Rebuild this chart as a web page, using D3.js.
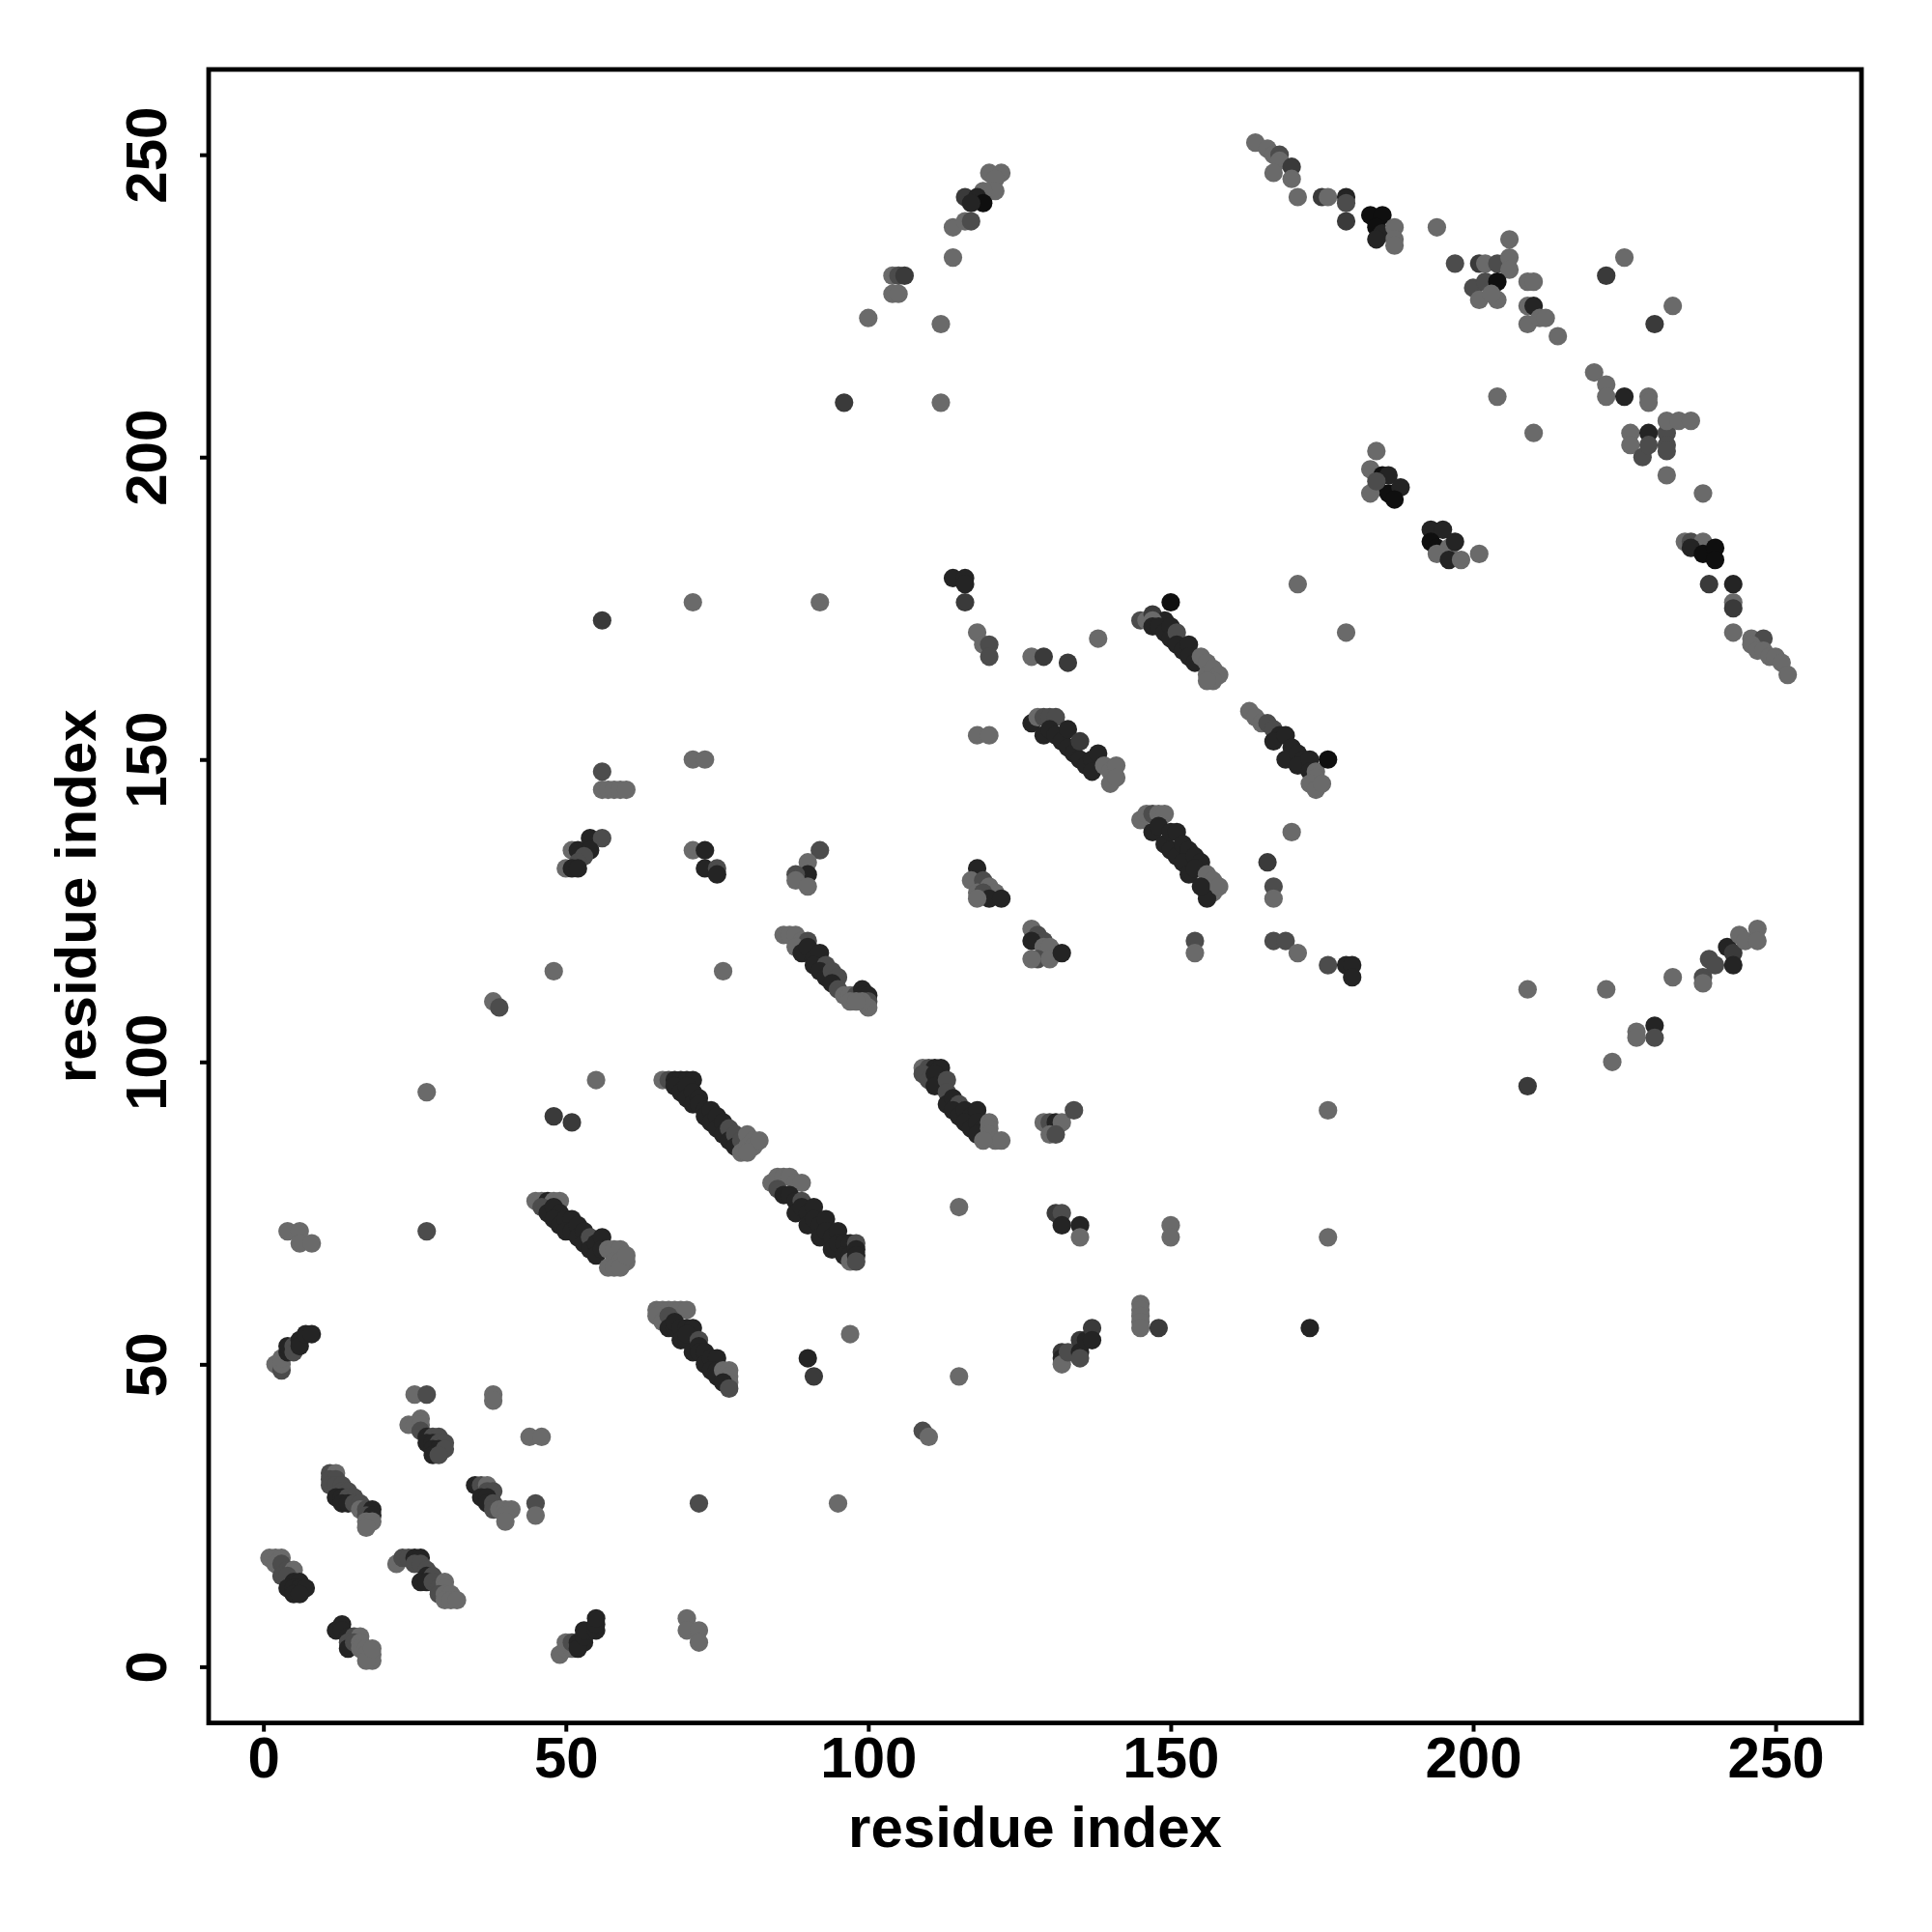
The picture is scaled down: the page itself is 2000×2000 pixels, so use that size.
<!DOCTYPE html>
<html><head><meta charset="utf-8">
<script src="https://cdn.jsdelivr.net/npm/d3@7"></script>
<style>body{margin:0;background:#fff}</style>
</head><body>
<svg id="chart" width="2000" height="2000"></svg>
<script>
// ---- data: contact pairs [residue i, residue j, contact probability] ----
const xTicks = [0, 50, 100, 150, 200, 250];
const yTicks = [0, 50, 100, 150, 200, 250];
const xTitle = "residue index";
const yTitle = "residue index";

const strandA = [[1,18,.15],[2,18,.15],[3,18,.15],[2,17,.15],[3,17,.5],[4,16,.5],[5,16,.15],[3,15,.5],[4,15,.5],[5,14,.85],[6,14,.85],[4,13,.85],[5,13,.85],[6,13,.85],[7,13,.85],[5,12,.85],[6,12,.85]];
const strandB = [[12,6,.85],[13,7,.85],[13,6,.85],[14,5,.85],[15,5,.5],[16,5,.15],[14,4,.5],[14,3,.85],[15,4,.5],[16,4,.15],[16,3,.15],[17,3,.15],[17,2,.15],[18,2,.15],[18,1,.15],[17,1,.15],[18,3,.15]];
const strandC = [[11,32,.5],[12,32,.15],[11,31,.5],[12,31,.5],[11,30,.5],[12,30,.5],[13,30,.5],[13,29,.5],[14,29,.5],[12,28,.85],[13,28,.85],[14,28,.5],[15,28,.5],[13,27,.85],[14,27,.85],[15,27,.5],[16,27,.5],[16,26,.15],[17,26,.5],[18,26,.85],[17,25,.5],[18,25,.85],[17,24,.15],[18,24,.15],[17,23,.15]];
const strandD = [[22,17,.15],[23,18,.5],[24,18,.5],[25,18,.85],[26,18,.85],[25,17,.5],[26,17,.5],[27,16,.5],[27,15,.85],[28,15,.5],[26,14,.85],[27,14,.85],[28,14,.5],[29,13,.5],[30,14,.15],[30,13,.15],[29,12,.5],[30,12,.15],[31,12,.15],[30,11,.15],[31,11,.15],[32,11,.15]];
const strandE = [[24,40,.15],[25,40,.15],[26,41,.15],[26,40,.15],[26,39,.5],[27,38,.85],[28,38,.5],[29,38,.5],[27,37,.85],[28,37,.85],[29,37,.5],[30,37,.5],[28,36,.85],[29,36,.85],[30,36,.5],[28,35,.85],[29,35,.5]];
const strandF = [[35,30,.85],[36,30,.5],[37,30,.15],[37,29,.5],[38,29,.5],[36,28,.85],[37,28,.85],[37,27,.85],[38,27,.5],[38,26,.5],[39,26,.15],[40,26,.15],[41,26,.15],[40,25,.15],[40,24,.15]];
const strandG = [[2,50,.15],[3,49,.5],[3,50,.15],[3,51,.15],[4,52,.85],[4,53,.85],[5,53,.5],[5,52,.5],[6,54,.85],[6,53,.85],[7,55,.85],[8,55,.85]];
const strandH = [[49,2,.15],[50,3,.15],[51,3,.15],[50,4,.15],[51,4,.5],[52,4,.85],[53,4,.85],[52,3,.85],[53,5,.85],[54,6,.85],[53,6,.85],[55,6,.85],[55,7,.85],[55,8,.85]];
const lowSingles = [[4,72,.15],[6,72,.15],[6,70,.15],[8,70,.15],[25,45,.15],[27,45,.5],[27,72,.5],[38,45,.15],[38,44,.15],[44,38,.15],[46,38,.15],[45,27,.5],[45,25,.15],[72,27,.5],[27,95,.15],[48,115,.15],[76,115,.15],[38,110,.15],[39,109,.5],[55,97,.15],[48,91,.7],[51,90,.7],[70,8,.15],[70,6,.15],[72,6,.15],[72,4,.15]];
const strandI = [[45,77,.15],[46,77,.15],[47,77,.85],[48,77,.15],[49,77,.15],[46,76,.5],[47,75,.85],[48,76,.85],[49,75,.85],[48,74,.85],[49,73,.85],[50,74,.85],[51,74,.85],[50,72,.85],[51,72,.85],[52,73,.85],[52,71,.85],[53,72,.85],[53,70,.85],[54,71,.5],[54,69,.85],[55,70,.85],[55,68,.85],[56,71,.85],[56,69,.85],[57,69,.15],[58,69,.15],[59,69,.15],[58,67,.15],[59,67,.15],[60,67,.15],[57,66,.15],[58,66,.15],[59,66,.15],[60,68,.15]];
const strandJ = [[65,59,.15],[66,59,.15],[67,59,.15],[68,59,.15],[69,59,.15],[70,59,.15],[65,58,.15],[66,57,.15],[67,58,.5],[67,56,.85],[68,56,.85],[68,57,.85],[69,56,.85],[70,56,.85],[71,56,.85],[69,54,.85],[70,54,.85],[70,55,.85],[72,54,.5],[71,52,.85],[72,53,.85],[72,52,.85],[73,52,.85],[73,50,.85],[74,51,.85],[75,51,.85],[74,49,.85],[75,49,.85],[75,48,.85],[76,49,.15],[77,49,.15],[77,48,.15],[77,47,.15],[76,47,.85],[77,46,.5]];
const strandK = [[66,97,.15],[67,97,.5],[68,97,.85],[69,97,.85],[70,97,.85],[71,97,.85],[68,96,.85],[69,95,.85],[70,96,.85],[70,94,.85],[71,95,.85],[71,93,.85],[72,94,.85],[72,93,.85],[73,92,.85],[73,91,.85],[74,92,.85],[74,90,.85],[75,91,.85],[75,89,.85],[76,90,.85],[76,88,.85],[77,89,.5],[77,87,.85],[78,88,.5],[78,86,.85],[79,87,.5],[79,85,.15],[80,88,.15],[80,86,.15],[81,87,.15],[81,86,.15],[82,87,.15],[80,85,.15]];
const strandL = [[84,80,.15],[85,81,.15],[86,81,.15],[87,81,.15],[88,80,.15],[89,80,.15],[85,79,.5],[86,78,.85],[87,78,.85],[88,77,.85],[89,77,.5],[88,75,.85],[89,76,.85],[90,75,.85],[91,76,.85],[90,73,.85],[91,74,.85],[92,73,.85],[93,74,.85],[92,71,.85],[93,72,.85],[94,71,.85],[95,72,.85],[94,69,.85],[95,70,.85],[96,70,.85],[97,70,.85],[96,68,.85],[97,68,.85],[97,67,.15],[98,70,.5],[98,69,.85],[98,68,.85],[98,67,.5]];
const midSingles = [[97,55,.15],[90,51,.85],[91,48,.7],[115,48,.15],[115,76,.15],[109,39,.5],[110,38,.15],[95,27,.15],[131,75,.7],[132,75,.5],[132,73,.85],[135,73,.85],[135,71,.15],[132,52,.7],[132,51,.85],[132,50,.15],[133,52,.5],[135,54,.7],[135,52,.85],[135,51,.5],[136,54,.85],[137,56,.7],[137,54,.85],[145,60,.15],[145,59,.15],[145,58,.15],[145,57,.15],[145,56,.15],[148,56,.7],[150,73,.15],[150,71,.15],[173,56,.85],[176,71,.15],[176,92,.15]];
const strandM = [[109,99,.15],[110,99,.5],[111,99,.85],[112,99,.85],[109,98,.5],[110,97,.5],[111,98,.85],[112,96,.85],[111,96,.85],[113,97,.5],[113,95,.5],[113,93,.85],[114,94,.85],[115,93,.5],[114,92,.85],[115,91,.85],[116,92,.85],[117,91,.85],[116,90,.85],[117,89,.85],[118,92,.85],[118,90,.85],[119,89,.85],[118,88,.85],[120,90,.15],[120,89,.15],[120,88,.15],[121,87,.15],[122,87,.15],[119,87,.15],[129,90,.15],[130,90,.5],[131,90,.85],[132,90,.15],[134,92,.5],[130,88,.15],[131,88,.5]];
const strandN = [[86,121,.15],[87,121,.15],[88,121,.15],[89,120,.15],[90,120,.5],[88,119,.15],[89,118,.85],[90,119,.85],[91,117,.85],[92,118,.85],[91,116,.85],[93,116,.5],[92,115,.85],[93,114,.85],[94,115,.5],[95,114,.5],[94,113,.85],[95,112,.5],[96,111,.15],[97,111,.15],[98,111,.5],[99,112,.85],[99,111,.85],[100,111,.85],[100,110,.5],[100,109,.15],[99,110,.15],[97,110,.15],[98,110,.15]];
const midClusters = [[92,135,.5],[90,133,.15],[90,131,.85],[88,131,.5],[88,130,.15],[90,129,.15],[118,132,.85],[117,130,.15],[119,130,.5],[120,129,.15],[121,128,.15],[118,128,.15],[119,128,.5],[120,127,.85],[122,127,.85],[118,127,.15],[127,122,.15],[128,121,.5],[129,120,.5],[127,120,.85],[129,119,.15],[130,119,.15],[128,117,.5],[130,117,.15],[127,117,.15],[132,118,.85],[154,120,.5],[154,118,.15],[167,120,.5],[169,120,.5],[171,118,.15],[176,116,.5],[179,116,.85],[180,116,.85],[180,114,.85],[54,137,.85],[56,137,.5],[51,135,.15],[52,135,.85],[54,135,.85],[53,134,.5],[52,133,.5],[50,132,.15],[51,132,.85],[52,132,.85],[71,135,.15],[73,135,.85],[73,132,.85],[75,132,.5],[75,131,.85],[56,148,.5],[56,145,.15],[57,145,.15],[58,145,.15],[59,145,.15],[60,145,.15],[71,150,.15],[73,150,.15],[56,173,.7],[71,176,.15],[92,176,.15]];
const upperSingles = [[114,180,.85],[116,180,.85],[116,179,.85],[116,176,.7],[118,171,.15],[119,169,.15],[120,169,.5],[120,167,.5],[118,154,.15],[120,154,.15],[127,167,.15],[129,167,.7],[133,166,.7],[138,170,.15],[171,179,.15],[179,171,.15],[170,138,.15],[166,133,.7],[167,129,.5],[167,127,.15]];
const strandO = [[145,173,.5],[146,173,.15],[147,174,.7],[149,173,.85],[147,173,.15],[147,172,.85],[148,172,.85],[149,171,.85],[150,172,.85],[150,170,.85],[151,171,.5],[151,169,.85],[152,168,.85],[153,169,.85],[153,167,.85],[154,166,.85],[155,167,.15],[156,166,.15],[156,164,.15],[157,165,.15],[158,164,.15],[157,163,.15],[156,163,.15],[150,176,.95]];
const strandP = [[127,156,.85],[128,157,.15],[129,157,.5],[130,157,.5],[131,157,.5],[129,154,.85],[130,155,.85],[131,154,.85],[132,153,.85],[133,155,.85],[133,152,.85],[134,151,.85],[135,153,.7],[135,150,.85],[136,149,.85],[137,150,.85],[138,151,.85],[137,148,.85],[139,149,.15],[140,148,.15],[141,149,.15],[140,146,.15],[141,147,.15]];
const strandQ = [[163,158,.15],[164,157,.15],[165,156,.15],[166,156,.5],[167,155,.5],[168,154,.85],[167,153,.85],[169,154,.85],[170,152,.85],[169,150,.85],[171,151,.85],[172,150,.85],[171,149,.85],[173,150,.85],[173,148,.85],[174,148,.15],[174,147,.15],[173,146,.15],[174,145,.15],[176,150,.95],[175,146,.15]];
const strandR = [[145,140,.15],[146,141,.15],[147,141,.5],[148,141,.15],[149,141,.15],[147,138,.85],[148,139,.85],[149,136,.85],[150,138,.85],[151,138,.85],[150,135,.85],[151,134,.85],[152,136,.85],[153,135,.85],[152,133,.85],[154,134,.85],[155,133,.85],[153,131,.85],[154,132,.85],[156,131,.15],[157,130,.15],[157,128,.15],[156,127,.85],[155,129,.85],[158,129,.15]];
const helixArc = [[120,247,.15],[122,247,.15],[121,246,.15],[121,244,.15],[119,244,.15],[116,243,.7],[118,243,.85],[119,242,.95],[117,242,.85],[114,238,.15],[116,239,.15],[117,239,.5],[114,233,.15],[104,230,.15],[105,230,.5],[106,230,.7],[104,227,.15],[105,227,.15],[100,223,.15],[112,222,.15],[96,209,.7],[112,209,.15]];
const topBand = [[164,252,.15],[166,251,.15],[167,250,.15],[168,250,.5],[168,249,.15],[170,248,.7],[167,247,.15],[170,246,.15],[171,243,.15],[175,243,.7],[176,243,.15],[179,243,.85],[179,242,.5],[179,239,.7],[183,240,.95],[185,240,.95],[184,238,.95],[185,237,.85],[187,238,.15],[187,236,.15],[184,236,.85],[187,235,.15],[194,238,.15],[206,236,.15],[197,232,.5],[201,232,.7],[202,232,.15],[204,232,.5],[206,233,.15],[206,231,.15],[200,228,.5],[202,229,.5],[204,229,.95],[201,226,.15],[204,226,.15],[203,227,.15],[209,229,.15],[210,229,.15],[209,225,.15],[210,225,.85],[209,222,.15],[211,223,.15],[212,223,.15],[214,220,.15],[225,233,.15],[222,230,.7],[233,225,.15],[230,222,.7],[220,214,.15],[222,212,.15],[222,210,.15],[225,210,.85],[229,210,.15],[229,209,.15],[204,210,.15],[210,204,.15],[226,204,.15],[226,202,.15],[228,200,.5],[229,204,.85],[232,204,.5],[232,206,.15],[234,206,.15],[236,206,.15],[232,202,.5],[232,201,.5],[229,202,.5],[232,197,.15],[238,194,.15]];
const strandS = [[184,201,.15],[183,198,.15],[185,197,.95],[186,197,.85],[184,195,.85],[186,194,.95],[188,195,.85],[187,193,.95],[183,194,.15],[184,196,.5],[193,188,.85],[195,188,.85],[193,186,.95],[194,185,.95],[196,185,.15],[197,186,.85],[194,184,.15],[196,183,.85],[198,183,.15],[201,184,.15]];
const bandEnd = [[235,186,.15],[236,186,.5],[238,186,.15],[236,185,.85],[238,184,.95],[240,185,.95],[240,183,.95],[239,179,.7],[243,179,.85],[243,176,.15],[243,175,.7],[243,171,.15],[246,170,.15],[248,170,.5],[246,169,.15],[247,168,.15],[248,168,.15],[249,167,.15],[250,167,.15],[251,166,.15],[252,164,.15]];
const lowerArc = [[209,112,.15],[222,112,.15],[233,114,.15],[238,114,.5],[238,113,.15],[239,117,.5],[240,116,.5],[242,119,.85],[243,118,.7],[243,116,.85],[244,121,.15],[245,120,.15],[247,122,.15],[247,120,.15],[227,105,.15],[227,104,.15],[230,106,.85],[230,104,.5],[223,100,.15],[209,96,.7]];

const contacts = [].concat(strandA, strandB, strandC, strandD, strandE, strandF, strandG, strandH,
  lowSingles, strandI, strandJ, strandK, strandL, midSingles, strandM, strandN, midClusters,
  upperSingles, strandO, strandP, strandQ, strandR, helixArc, topBand, strandS, bandEnd, lowerArc)
  .map(d => ({i: d[0], j: d[1], p: d[2]}));

// ---- layout ----
const L = 216, R = 1927, T = 71.9, B = 1783.6;
const svg = d3.select("#chart");
svg.append("rect").attr("width", 2000).attr("height", 2000).attr("fill", "#fff");

const x = d3.scaleLinear().domain([-9.05, 264.2]).range([L, R]);
const y = d3.scaleLinear().domain([-9.3, 264.1]).range([B, T]);
const shade = d3.scaleLinear().domain([0.15, 0.5, 0.7, 0.85, 0.95])
  .range(["#6a6a6a", "#4c4c4c", "#3a3a3a", "#242424", "#0f0f0f"]).clamp(true);

svg.append("g").selectAll("circle").data(contacts).join("circle")
  .attr("cx", d => x(d.i)).attr("cy", d => y(d.j)).attr("r", 9.6)
  .attr("fill", d => shade(d.p));

svg.append("rect").attr("x", L).attr("y", T).attr("width", R - L).attr("height", B - T)
  .attr("fill", "none").attr("stroke", "#000").attr("stroke-width", 4.8);

const font = "'Liberation Sans', Arial, Helvetica, sans-serif";

const gx = svg.append("g").attr("transform", `translate(0,${B})`)
  .call(d3.axisBottom(x).tickValues(xTicks).tickSize(9).tickPadding(5));
gx.select(".domain").remove();
gx.selectAll(".tick line").attr("stroke", "#000").attr("stroke-width", 4);
gx.selectAll(".tick text").attr("font-family", font).attr("font-weight", "bold")
  .attr("font-size", 60).attr("fill", "#000");

const gy = svg.append("g").attr("transform", `translate(${L},0)`)
  .call(d3.axisLeft(y).tickValues(yTicks).tickSize(9));
gy.select(".domain").remove();
gy.selectAll(".tick line").attr("stroke", "#000").attr("stroke-width", 4);
gy.selectAll(".tick text").attr("font-family", font).attr("font-weight", "bold")
  .attr("font-size", 60).attr("fill", "#000")
  .attr("x", 0).attr("y", 0).attr("dy", 0).attr("text-anchor", "middle")
  .attr("transform", "translate(-44,0) rotate(-90)");

svg.append("text").attr("x", (L + R) / 2).attr("y", 1912).attr("text-anchor", "middle")
  .attr("font-family", font).attr("font-weight", "bold").attr("font-size", 60).text(xTitle);
svg.append("text").attr("transform", `translate(99,${(T + B) / 2}) rotate(-90)`)
  .attr("text-anchor", "middle").attr("font-family", font).attr("font-weight", "bold")
  .attr("font-size", 60).text(yTitle);
</script>
</body></html>
